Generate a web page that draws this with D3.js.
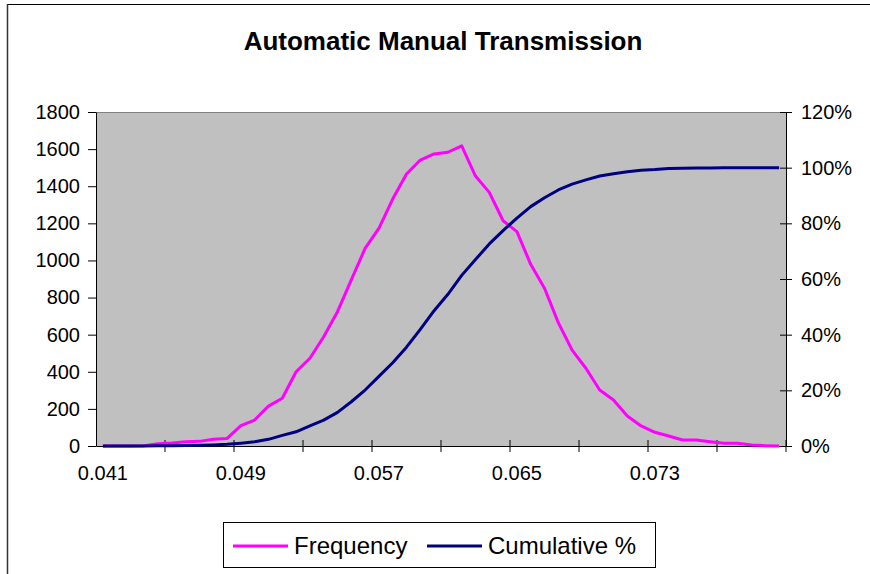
<!DOCTYPE html>
<html>
<head>
    <meta charset="utf-8">
    <script src="https://d3js.org/d3.v7.min.js"></script>
    <style>
        body { margin: 0; background: #fff; }
        svg { display: block; font-family: "Liberation Sans", Arial, sans-serif; }
    </style>
</head>
<body>
<script>
    /* chart values */
    var categories = [0.041, 0.0418, 0.0426, 0.0434, 0.0442, 0.045, 0.0458, 0.0466, 0.0474, 0.0482,
        0.049, 0.0498, 0.0506, 0.0514, 0.0522, 0.053, 0.0538, 0.0546, 0.0554, 0.0562,
        0.057, 0.0578, 0.0586, 0.0594, 0.0602, 0.061, 0.0618, 0.0626, 0.0634, 0.0642,
        0.065, 0.0658, 0.0666, 0.0674, 0.0682, 0.069, 0.0698, 0.0706, 0.0714, 0.0722,
        0.073, 0.0738, 0.0746, 0.0754, 0.0762, 0.077, 0.0778, 0.0786, 0.0794, 0.0802];
    var frequency = [0, 0, 0, 2, 12, 16, 23, 25, 36, 41,
        110, 140, 215, 257, 400, 473, 589, 724, 895, 1065,
        1173, 1331, 1466, 1541, 1574, 1583, 1618, 1455, 1367, 1214,
        1155, 979, 850, 665, 517, 419, 302, 248, 162, 108,
        74, 54, 32, 32, 23, 15, 15, 5, 2, 0];
    var cumulative = [0, 0, 0, 0, 0.001, 0.001, 0.002, 0.003, 0.004, 0.006,
        0.010, 0.015, 0.024, 0.038, 0.051, 0.072, 0.093, 0.121, 0.159, 0.201,
        0.250, 0.299, 0.355, 0.419, 0.486, 0.545, 0.613, 0.670, 0.726, 0.774,
        0.819, 0.860, 0.892, 0.920, 0.941, 0.956, 0.970, 0.978, 0.985, 0.991,
        0.993, 0.997, 0.998, 0.999, 0.999, 1, 1, 1, 1, 1];
    var xLabels = ["0.041", "0.049", "0.057", "0.065", "0.073"];
    var leftTicks = [0, 200, 400, 600, 800, 1000, 1200, 1400, 1600, 1800];
    var rightTicks = [0, 0.2, 0.4, 0.6, 0.8, 1.0, 1.2];
    var seriesNames = ["Frequency", "Cumulative %"];
    var seriesColors = ["#ff00ff", "#000080"];

    var width = 870, height = 574;
    var plot = {left: 96, right: 786, top: 112, bottom: 446};
    var fontsize = "20px";

    var svg = d3.select("body").append("svg")
        .attr("width", width).attr("height", height);

    /* outer chart frame (top and left edges visible) */
    svg.append("line").attr("x1", 7).attr("x2", width).attr("y1", 4.5).attr("y2", 4.5)
        .attr("stroke", "#000").attr("stroke-width", 1);
    svg.append("line").attr("x1", 7.5).attr("x2", 7.5).attr("y1", 4).attr("y2", height)
        .attr("stroke", "#333").attr("stroke-width", 1.5);

    svg.append("text")
        .attr("x", 443).attr("y", 50)
        .attr("text-anchor", "middle")
        .style("font-size", "26px").style("font-weight", "bold")
        .text("Automatic Manual Transmission");

    var x = d3.scaleBand().domain(categories).range([plot.left, plot.right]);
    var yL = d3.scaleLinear().domain([0, 1800]).range([plot.bottom, plot.top]);
    var yR = d3.scaleLinear().domain([0, 1.2]).range([plot.bottom, plot.top]);
    var cx = function(d) { return x(d) + x.bandwidth() / 2; };

    /* plot area */
    svg.append("rect")
        .attr("x", plot.left).attr("y", plot.top)
        .attr("width", plot.right - plot.left).attr("height", plot.bottom - plot.top)
        .attr("fill", "#c0c0c0");
    svg.append("line").attr("x1", plot.left).attr("x2", plot.right)
        .attr("y1", plot.top + 0.5).attr("y2", plot.top + 0.5)
        .attr("stroke", "#808080");

    /* left axis */
    var gL = svg.append("g").attr("transform", "translate(" + plot.left + ",0)")
        .call(d3.axisLeft(yL).tickValues(leftTicks).tickFormat(d3.format("d"))
            .tickSize(8).tickPadding(8).tickSizeOuter(0));
    /* right axis */
    var gR = svg.append("g").attr("transform", "translate(" + plot.right + ",0)")
        .call(d3.axisRight(yR).tickValues(rightTicks).tickFormat(d3.format(".0%"))
            .tickSize(6).tickPadding(9).tickSizeOuter(0));
    gR.selectAll(".tick line").attr("x1", -6);

    /* bottom axis: labels at category centres, ticks between categories */
    var labelCats = categories.filter(function(c) { return xLabels.indexOf(String(c)) >= 0; });
    var gB = svg.append("g").attr("transform", "translate(0," + plot.bottom + ")")
        .call(d3.axisBottom(x).tickValues(labelCats).tickSize(0).tickPadding(20).tickSizeOuter(0));
    var tickCats = categories.filter(function(c, i) { return i % 5 === 0; });
    gB.selectAll(".xtick").data(tickCats.slice(1).map(x).concat([plot.right]))
        .enter().append("line").attr("class", "xtick")
        .attr("x1", function(d) { return d; }).attr("x2", function(d) { return d; })
        .attr("y1", -6).attr("y2", 6).attr("stroke", "#000");

    [gL, gR, gB].forEach(function(g) {
        g.selectAll("text").style("font-size", fontsize).style("font-family", "Liberation Sans, Arial, sans-serif").attr("fill", "#000");
        g.selectAll("line, path").attr("stroke", "#000");
    });

    /* series */
    var lineF = d3.line().x(function(d, i) { return cx(categories[i]); }).y(function(d) { return yL(d); });
    var lineC = d3.line().x(function(d, i) { return cx(categories[i]); }).y(function(d) { return yR(d); });
    svg.append("path").datum(frequency).attr("d", lineF)
        .attr("fill", "none").attr("stroke", seriesColors[0]).attr("stroke-width", 3)
        .attr("stroke-linejoin", "round");
    svg.append("path").datum(cumulative).attr("d", lineC)
        .attr("fill", "none").attr("stroke", seriesColors[1]).attr("stroke-width", 3)
        .attr("stroke-linejoin", "round");

    /* legend */
    var legend = svg.append("g");
    legend.append("rect").attr("x", 223.5).attr("y", 522.5).attr("width", 432).attr("height", 45)
        .attr("fill", "#fff").attr("stroke", "#000");
    var legX = [233, 427];
    seriesNames.forEach(function(name, i) {
        legend.append("line").attr("x1", legX[i]).attr("x2", legX[i] + 55)
            .attr("y1", 546).attr("y2", 546)
            .attr("stroke", seriesColors[i]).attr("stroke-width", 3);
        legend.append("text").attr("x", legX[i] + 61).attr("y", 546)
            .attr("dy", "0.35em").style("font-size", "24px").text(name);
    });
</script>
</body>
</html>
